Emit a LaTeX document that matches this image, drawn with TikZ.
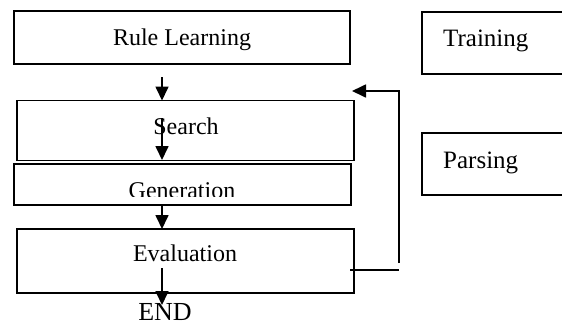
\documentclass[tikz,border=0pt]{standalone}
\usepackage{fontspec}
\setmainfont{Liberation Serif}
\usetikzlibrary{arrows.meta}
\begin{document}
\begin{tikzpicture}[x=1pt,y=-1pt,
  box/.style={draw, line width=1.8pt, inner sep=0pt, outer sep=0pt},
  txt/.style={inner sep=0pt, anchor=base, font=\fontsize{24}{28}\selectfont},
  ltxt/.style={inner sep=0pt, anchor=base west, font=\fontsize{25}{29}\selectfont},
  arr/.style={line width=1.7pt, -{Triangle[length=14pt,width=13pt]}},
  ln/.style={line width=1.7pt}]
\useasboundingbox (0,0) rectangle (562,322);
\clip (0,0) rectangle (562,322);
% boxes
\node[box, minimum width=336pt, minimum height=53pt] (rule) at (182,37.5) {};
\node[box, minimum width=337pt, minimum height=60pt] (search) at (185.5,130.5) {};
\node[box, minimum width=337pt, minimum height=41pt] (gen) at (182.5,184.5) {};
\node[box, minimum width=337pt, minimum height=64pt] (eval) at (185.5,261) {};
\node[box, minimum width=150pt, minimum height=62pt] (train) at (497,43) {};
\node[box, minimum width=150pt, minimum height=62pt] (parse) at (497,164) {};
% texts
\node[txt] (ruletxt) at (182,45.5) {Rule Learning};
\node[txt] (searchtxt) at (186,134) {Search};
\begin{scope}
  \clip (14,164) rectangle (351,196);
  \node[txt] (gentxt) at (182,198.5) {Generation};
\end{scope}
\node[txt] (evaltxt) at (185,261.5) {Evaluation};
\node[txt, font=\fontsize{26}{30}\selectfont] (endtxt) at (165,320.5) {END};
\node[ltxt] (traintxt) at (443,46.5) {Training};
\node[ltxt] (parsetxt) at (443,168) {Parsing};
% arrows
\coordinate (a1s) at (162,77);
\draw[arr] (a1s) -- (a1s |- search.north);
\coordinate (a2s) at (162,118);
\coordinate (a2e) at (162,160);
\draw[arr] (a2s) -- (a2e);
\coordinate (a3s) at (162,205);
\draw[arr] (a3s) -- (a3s |- eval.north);
\coordinate (a4s) at (162,268);
\coordinate (a4e) at (162,305);
\draw[arr] (a4s) -- (a4e);
% feedback
\coordinate (fh1) at (350,270);
\coordinate (fh2) at (399,270);
\draw[ln] (fh1) -- (fh2);
\coordinate (fv1) at (399,263);
\coordinate (fv2) at (399,91);
\coordinate (fv3) at (352,91);
\draw[arr] (fv1) -- (fv2) -- (fv3);
\end{tikzpicture}
\end{document}
